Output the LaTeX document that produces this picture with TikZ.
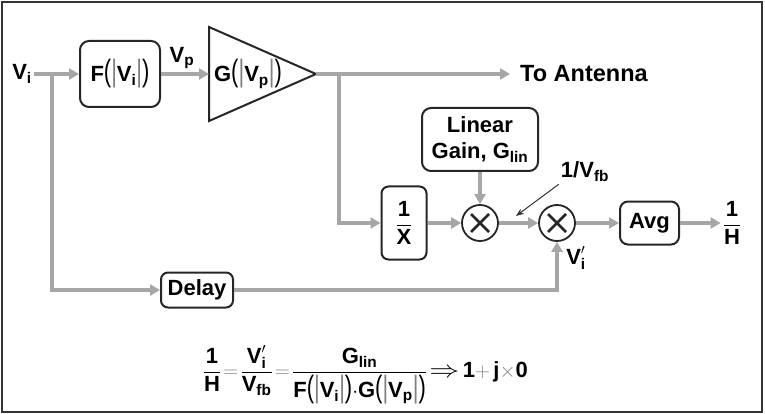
\documentclass[tikz,border=0pt]{standalone}
\usepackage{amsmath}
\usepackage{fontspec}
\setmainfont{Liberation Sans}
\usepackage{tikz}
\usetikzlibrary{arrows.meta,positioning,calc}

\newcommand{\tx}[1]{\text{#1}}
\newcommand{\tallp}[1]{\scalebox{1}[1.4]{\mdseries#1}}
\newcommand{\absof}[2]{\tx{#1\tallp{(}\textcolor{gray}{\tallp{|}}}\tx{V}_{\tx{#2}}\tx{\textcolor{gray}{\tallp{|}}\tallp{)}}}
\newcommand{\implarrow}{\scalebox{1.45}[1.15]{$\Rightarrow$}}

\begin{document}
\begin{tikzpicture}[x=1pt, y=-1pt,
    lbl/.style={font=\fontsize{22}{26}\selectfont\bfseries, inner sep=2pt},
    blk/.style={lbl, draw=black!85, line width=2pt, rounded corners=9pt, fill=white},
    mult/.style={circle, draw=black!85, line width=1.8pt, minimum size=36pt, inner sep=0pt},
    sig/.style={draw=gray!70, line width=3.5pt, -{Triangle[length=10pt,width=11pt]}},
    note/.style={-{Stealth[length=8pt]}, draw=black!80, line width=1pt}
]
    \useasboundingbox (0,0) rectangle (765,414);
    \draw[black!80, line width=1.5pt] (2,2) rectangle (762,412);

    % forward path
    \node[lbl] (vi) at (22,74) {$\tx{V}_{\tx{i}}$};
    \node[blk, minimum width=80pt, minimum height=66pt] (fbox) at (120,74) {$\absof{F}{i}$};
    \node[lbl] (vp) at (182,58) {$\tx{V}_{\tx{p}}$};
    \coordinate (gin) at (209,74);
    \coordinate (gtip) at (316,74);
    \draw[black!85, line width=2pt, fill=white] (209,27) -- (gtip) -- (209,121) -- cycle;
    \node[lbl, inner sep=0pt] (gain) at (248,74) {$\absof{G}{p}$};
    \node[lbl, anchor=west, inner xsep=10pt, font=\fontsize{23.5}{28}\selectfont\bfseries] (ant) at (510,74) {To Antenna};
    \coordinate (sp1) at (52,74);
    \coordinate (sp2) at (339,74);

    % feedback path
    \node[blk, minimum width=45pt, minimum height=73pt, rounded corners=7pt, inner sep=0pt] (recip) at (404,223) {$\dfrac{\tx{1}}{\tx{X}}$};
    \node[mult] (m1) at (480,223) {};
    \node[mult] (m2) at (557,223) {};
    \foreach \m in {m1,m2} {
        \draw[line width=2.8pt, black!85] ([shift={(-9,-9)}]\m.center) -- ([shift={(9,9)}]\m.center);
        \draw[line width=2.8pt, black!85] ([shift={(-9,9)}]\m.center) -- ([shift={(9,-9)}]\m.center);
    }
    \node[blk, align=center, minimum width=116pt, minimum height=63pt, inner sep=0pt] (lin) at (480,139.5) {Linear\\Gain, $\tx{G}_{\tx{lin}}$};
    \node[blk, minimum width=59pt, minimum height=43pt, rounded corners=8pt] (avg) at (649.5,223) {Avg};
    \node[lbl] (inv) at (732,223) {$\dfrac{\tx{1}}{\tx{H}}$};
    \node[blk, minimum width=72pt, minimum height=35pt, rounded corners=7pt, inner sep=0pt] (delay) at (197,290) {Delay};
    \node[lbl] (fbl) at (585,172) {1/$\tx{V}_{\tx{fb}}$};
    \coordinate (fbp) at (516,216);
    \node[lbl] (vd) at (576,258) {$\tx{V}'_{\tx{i}}$};

    % result
    \node[lbl] (eq) at (366,375) {\thickmuskip=3mu \medmuskip=1mu \nulldelimiterspace=0pt
        $\dfrac{\tx{1}}{\tx{H}}
        \mathrel{\color{gray}=} \dfrac{\tx{V}'_{\tx{i}}}{\tx{V}_{\tx{fb}}}
        \mathrel{\color{gray}=} \dfrac{\tx{G}_{\tx{lin}}}{\absof{F}{i}{\cdot}\absof{G}{p}}
        \mathrel{\implarrow} \tx{1}{\color{gray}+}\,\tx{j}{\color{gray}\times}\tx{0}$};

    % connectors
    \draw[sig] (vi) -- (fbox);
    \draw[sig] (fbox) -- (gin);
    \draw[sig] (gtip) -- (ant);
    \draw[sig] (sp1) |- (delay);
    \draw[sig] (sp2) |- (recip);
    \draw[sig] (recip) -- (m1);
    \draw[sig] (lin) -- (m1);
    \draw[sig] (m1) -- (m2);
    \draw[sig] (delay) -| (m2);
    \draw[sig] (m2) -- (avg);
    \draw[sig] (avg) -- (inv);
    \draw[note] (fbl.south west) -- (fbp);
\end{tikzpicture}
\end{document}
